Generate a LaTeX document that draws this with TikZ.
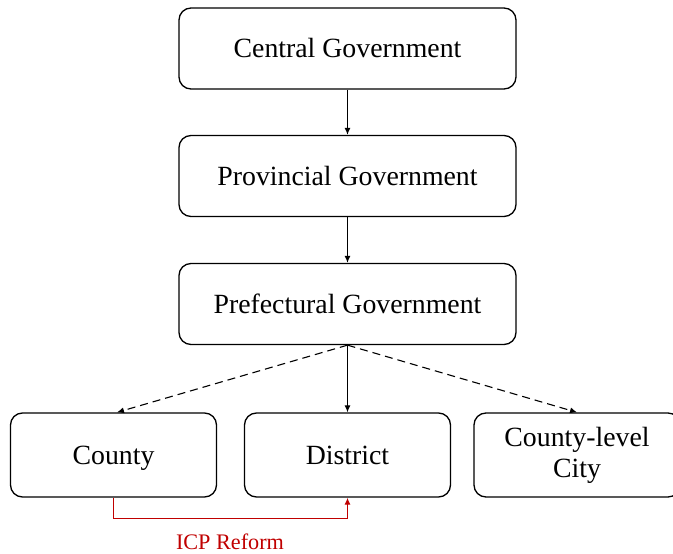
\documentclass[tikz,border=0pt]{standalone}
\usepackage{fontspec}
\setmainfont{Liberation Serif}
\usetikzlibrary{arrows.meta}
\definecolor{reformred}{RGB}{192,0,0}
\begin{document}
\begin{tikzpicture}[x=1pt,y=-1pt,
  govbox/.style={draw, line width=1.3pt, rounded corners=12pt,
    minimum width=337pt, minimum height=81pt, inner sep=0pt,
    align=center, font=\fontsize{27.8}{31}\selectfont},
  oneline/.style={text height=22pt, text depth=4pt},
  unitbox/.style={govbox, minimum width=206pt, minimum height=84pt},
  link/.style={line width=1.1pt, -{Latex[length=7pt,width=6pt]}},
  dashlink/.style={link, dash pattern=on 8pt off 5pt},
  reform/.style={line width=1.3pt, draw=reformred, -{Latex[length=7pt,width=6pt]}}
]
\useasboundingbox (0,0) rectangle (673,554);
\clip (0,0) rectangle (673,554);

% government levels
\node[govbox, oneline] (central)     at (347.5,48.5) {Central Government};
\node[govbox, oneline] (provincial)  at (347.5,176)  {Provincial Government};
\node[govbox, oneline] (prefectural) at (347.5,304)  {Prefectural Government};

% local units
\node[unitbox, oneline] (county)   at (113.5,455) {County};
\node[unitbox, oneline] (district) at (347.5,455) {District};
\node[unitbox] (city) at (577,455) {County-level\\City};

% hierarchy
\draw[link] (central) -- (provincial);
\draw[link] (provincial) -- (prefectural);
\draw[link] (prefectural.south) -- (district.north);
\draw[dashlink] (prefectural.south) -- ([xshift=3.5pt]county.north);
\draw[dashlink] (prefectural.south) -- (city.north);

% county-to-district conversion
\coordinate (bend) at ([yshift=-21pt]county.south);
\draw[reform] (county.south) -- (bend) -| (district.south);
\node[text=reformred, font=\fontsize{22.2}{26}\selectfont] (icp) at (230,542) {ICP Reform};
\end{tikzpicture}
\end{document}
